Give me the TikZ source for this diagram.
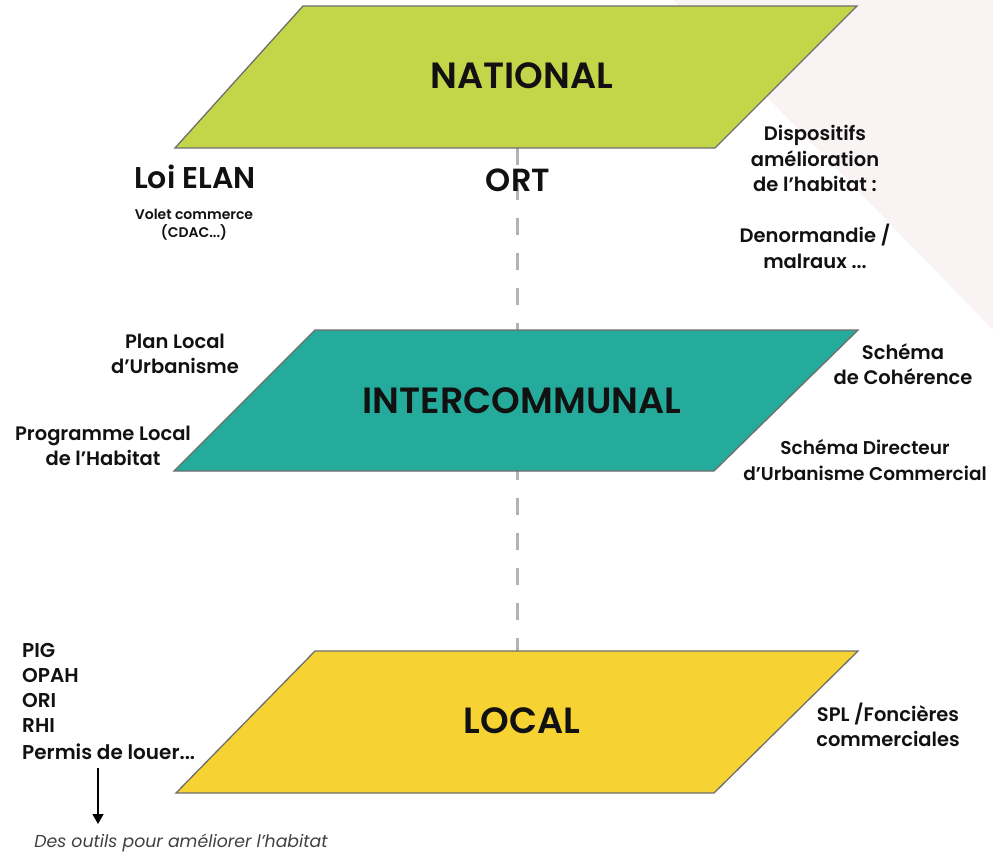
\documentclass[tikz,border=0pt]{standalone}
\usepackage{fontspec}
\setmainfont{Poppins}[BoldFont={Poppins SemiBold}]
\usetikzlibrary{arrows.meta}
\definecolor{natgreen}{HTML}{C3D548}
\definecolor{interteal}{HTML}{24AB9B}
\definecolor{localyellow}{HTML}{F6D233}
\definecolor{edgegray}{HTML}{6E6E6E}
\definecolor{dashgray}{HTML}{B3B3B3}
\definecolor{bgpink}{HTML}{F9F3F3}
\definecolor{txt}{HTML}{111111}
\begin{document}
\begin{tikzpicture}[x=1pt,y=-1pt,
  plane/.style={draw=edgegray,line width=1.3pt},
  title/.style={font=\bfseries\fontsize{36.5}{40}\selectfont,text=txt},
  lbl/.style={font=\bfseries\fontsize{19.5}{25.5}\selectfont,text=txt,align=center,inner sep=0pt},
  biglbl/.style={font=\bfseries\fontsize{30}{33}\selectfont,text=txt,inner sep=0pt},
  smalllbl/.style={font=\bfseries\fontsize{14}{18}\selectfont,text=txt,align=center,inner sep=0pt},
  listlbl/.style={font=\bfseries\fontsize{20}{25.5}\selectfont,text=txt,anchor=west,inner sep=0pt},
]
\useasboundingbox (0,0) rectangle (993,856);
\fill[bgpink] (673,0) -- (993,0) -- (993,330) -- cycle;

% corners
\coordinate (n1) at (303,6);   \coordinate (n2) at (857,6);
\coordinate (n3) at (715,148); \coordinate (n4) at (175,148);
\coordinate (i1) at (315,330); \coordinate (i2) at (858,330);
\coordinate (i3) at (714,471); \coordinate (i4) at (174,471);
\coordinate (l1) at (315,651); \coordinate (l2) at (858,651);
\coordinate (l3) at (714,793); \coordinate (l4) at (176,793);
\coordinate (dtop) at (517,148);
\coordinate (dbot) at (517,651);

\draw[dashgray,line width=3pt,dash pattern=on 17pt off 18pt] (dtop) -- (dbot);

\draw[plane,fill=natgreen] (n1) -- (n2) -- (n3) -- (n4) -- cycle;
\draw[plane,fill=interteal] (i1) -- (i2) -- (i3) -- (i4) -- cycle;
\draw[plane,fill=localyellow] (l1) -- (l2) -- (l3) -- (l4) -- cycle;

\node[title] (national) at (522,76) {NATIONAL};
\node[title] (inter) at (522,401) {INTERCOMMUNAL};
\node[title] (local) at (522,721) {LOCAL};

\node[biglbl] (elan) at (195,177) {Loi ELAN};
\node[smalllbl] (volet) at (194,225) {Volet commerce\\(CDAC...)};
\node[biglbl,font=\bfseries\fontsize{32}{35}\selectfont] (ort) at (518,180) {ORT};
\node[lbl] (dispo) at (815,197) {Dispositifs\\amélioration\\de l’habitat :\\[25.5pt]Denormandie /\\malraux ...};

\node[lbl] (plu) at (175,354) {Plan Local\\d’Urbanisme};
\node[lbl] (plh) at (103,446) {Programme Local\\de l’Habitat};
\node[lbl] (scot) at (903,364) {Schéma\\de Cohérence};
\node[lbl,font=\bfseries\fontsize{18.5}{25.5}\selectfont] (sduc) at (865,460) {Schéma Directeur\\d’Urbanisme Commercial};
\node[lbl] (spl) at (888,725) {SPL /Foncières\\commerciales};

\node[listlbl] (pig) at (22,650) {PIG};
\node[listlbl] (opah) at (22,675) {OPAH};
\node[listlbl] (ori) at (22,700) {ORI};
\node[listlbl] (rhi) at (22,726) {RHI};
\node[listlbl] (permis) at (22,752) {Permis de louer...};

\coordinate (arrtop) at (98,768);
\node[font=\itshape\fontsize{17.3}{20}\selectfont,text=black!75,inner sep=0pt] (outils) at (181,843) {Des outils pour améliorer l’habitat};
\draw[-{Triangle[length=10pt,width=11pt]},line width=1.3pt] (arrtop) -- (98,824);
\end{tikzpicture}
\end{document}
